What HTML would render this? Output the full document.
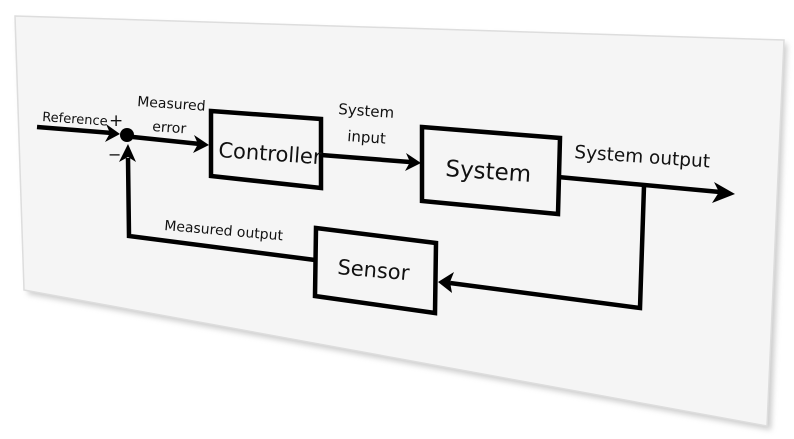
<!DOCTYPE html>
<html><head><meta charset="utf-8"><style>
html,body{margin:0;padding:0;background:#fff;width:794px;height:439px;overflow:hidden}
svg{display:block}
text{font-family:"DejaVu Sans","Liberation Sans",sans-serif;fill:#111}
</style></head><body>
<svg width="794" height="439" viewBox="0 0 794 439">
<defs>
<filter id="sh" x="-5%" y="-5%" width="110%" height="115%"><feGaussianBlur stdDeviation="3"/></filter>
</defs>
<polygon points="18,20 787,44 771,430 28,294" fill="#999" opacity="0.5" filter="url(#sh)"/>
<polygon points="15,16 784,40 767,426 24,290" fill="#f5f5f5" stroke="#ddd" stroke-width="1.5"/>
<g stroke="#000" stroke-width="4.5" fill="none">
<line x1="37" y1="127" x2="112" y2="133"/>
<line x1="133" y1="137" x2="200" y2="144"/>
<polygon points="211,111 321,119 321,188 211,176"/>
<line x1="321" y1="155" x2="410" y2="162"/>
<polygon points="422,127 560,138 558,214 422,201"/>
<line x1="558" y1="177" x2="720" y2="192"/>
<polyline points="644,186 640,308 450,283"/>
<polygon points="316,228 436,243 435,313 315,296"/>
<polyline points="315,260 129,236 128,158"/>
</g>
<circle cx="127" cy="135" r="7" fill="#000"/>
<g fill="#000">
<polygon points="120,134 106,124 110,133 105,142"/>
<polygon points="209,145 194,135 198,144 193,153"/>
<polygon points="421,163 406,153 410,162 405,171"/>
<polygon points="735,194 714,182 719,192 712,203"/>
<polygon points="438,282 454,272 450,282 452,293"/>
<polygon points="128,144 119,162 128,157 136,162"/>
</g>
<g font-size="14">
<text x="42" y="121" font-size="13" transform="rotate(4 42 121)">Reference</text>
<text x="109" y="126" font-size="17">+</text>
<text x="108" y="160" font-size="16">−</text>
<text x="137" y="106" transform="rotate(4 137 106)">Measured</text>
<text x="152" y="131" transform="rotate(4 152 131)">error</text>
<text x="338" y="114" font-size="15" transform="rotate(4 338 114)">System</text>
<text x="347" y="141" font-size="15" transform="rotate(4 347 141)">input</text>
<text x="574" y="158" font-size="18.5" transform="rotate(4 574 158)">System output</text>
<text x="164" y="230" transform="rotate(5 164 230)">Measured output</text>
</g>
<text x="218" y="157" font-size="21" transform="rotate(4 218 157)">Controller</text>
<text x="445" y="176" font-size="23" transform="rotate(4 445 176)">System</text>
<text x="337" y="274" font-size="21" transform="rotate(5 337 274)">Sensor</text>
</svg>
</body></html>
